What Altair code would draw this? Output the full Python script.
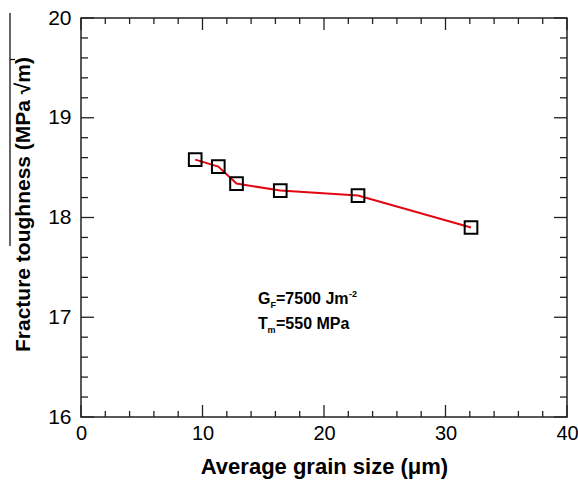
import altair as alt
import pandas as pd

# Measured fracture toughness against average grain size
grain_size = [9.4, 11.3, 12.8, 16.4, 22.8, 32.1]
toughness = [18.58, 18.51, 18.34, 18.27, 18.22, 17.90]

# Axis ticks
x_major = [0, 10, 20, 30, 40]
x_minor = [v for v in range(2, 40, 2) if v % 10 != 0]
y_major = [16, 17, 18, 19, 20]
y_minor = [round(16 + 0.2 * i, 1) for i in range(1, 20) if i % 5 != 0]

W, H = 486, 399
FONT = "Liberation Sans"

df = pd.DataFrame({"size": grain_size, "k": toughness})

xs = alt.Scale(domain=[0, 40], nice=False, zero=False)
ys = alt.Scale(domain=[16, 20], nice=False, zero=False)

line = alt.Chart(df).mark_line(color="#e30613", strokeWidth=2).encode(
    x=alt.X(
        "size:Q",
        scale=xs,
        axis=alt.Axis(
            values=x_major,
            format="d",
            ticks=False,
            tickSize=0,
            domain=False,
            grid=False,
            labelFlush=False,
            labelPadding=6,
            labelFont=FONT,
            labelFontSize=20,
            labelColor="black",
            title="Average grain size (\u03bcm)",
            titleFont=FONT,
            titleFontSize=22,
            titleFontWeight="bold",
            titleColor="black",
            titleBaseline="alphabetic",
            titleAlign="center",
            titleX=W / 2,
            titleY=56,
        ),
    ),
    y=alt.Y(
        "k:Q",
        scale=ys,
        axis=alt.Axis(
            values=y_major,
            format="d",
            ticks=False,
            tickSize=0,
            domain=False,
            grid=False,
            labelFlush=False,
            labelPadding=10,
            labelFont=FONT,
            labelFontSize=21,
            labelColor="black",
            title="Fracture toughness (MPa \u221am)",
            titleFont=FONT,
            titleFontSize=21,
            titleFontWeight="bold",
            titleColor="black",
            titleAngle=270,
            titleAlign="center",
            titleBaseline="alphabetic",
            titleX=-52,
            titleY=186,
        ),
    ),
)

points = alt.Chart(df).mark_point(
    shape="square", size=160, filled=False, color="black", strokeWidth=2, opacity=1
).encode(x=alt.X("size:Q", scale=xs), y=alt.Y("k:Q", scale=ys))


def xticks(values, length, side):
    d = pd.DataFrame({"v": values})
    if side == "bottom":
        enc = dict(y=alt.value(H), y2=alt.value(H - length))
    else:
        enc = dict(y=alt.value(0), y2=alt.value(length))
    return alt.Chart(d).mark_rule(color="#222", strokeWidth=1.3).encode(
        x=alt.X("v:Q", scale=xs), **enc
    )


def yticks(values, length, side):
    d = pd.DataFrame({"v": values})
    if side == "left":
        enc = dict(x=alt.value(0), x2=alt.value(length))
    else:
        enc = dict(x=alt.value(W), x2=alt.value(W - length))
    return alt.Chart(d).mark_rule(color="#222", strokeWidth=1.3).encode(
        y=alt.Y("v:Q", scale=ys), **enc
    )


tick_layers = []
for side in ("bottom", "top"):
    tick_layers += [xticks(x_major, 12, side), xticks(x_minor, 6, side)]
for side in ("left", "right"):
    tick_layers += [yticks(y_major, 13, side), yticks(y_minor, 7, side)]

# Overline of the square root in the y title
anno = pd.DataFrame({"a": [0]})
overline = alt.Chart(anno).mark_rule(color="black", strokeWidth=1.2).encode(
    x=alt.value(-71), y=alt.value(-5), y2=alt.value(228)
)
overline_hook = alt.Chart(anno).mark_rule(color="black", strokeWidth=1.2).encode(
    x=alt.value(-71), x2=alt.value(-66), y=alt.value(41.5)
)


def label(text, x, y, size, dy=0):
    return alt.Chart(anno).mark_text(
        text=text,
        font=FONT,
        fontSize=size,
        fontWeight="bold",
        color="black",
        align="left",
        baseline="alphabetic",
        dy=dy,
    ).encode(x=alt.value(x), y=alt.value(y))


L1, L2 = 286, 311
annotation = [
    label("G", 177, L1, 16),
    label("F", 189.5, L1, 9, dy=4),
    label("=7500 Jm", 195, L1, 16),
    label("-2", 268, L1, 9, dy=-7),
    label("T", 177, L2, 16),
    label("m", 186.5, L2, 9, dy=4),
    label("=550 MPa", 195, L2, 16),
]

chart = (
    alt.layer(*tick_layers, line, points, overline, overline_hook, *annotation)
    .properties(
        width=W,
        height=H,
        autosize=alt.AutoSizeParams(type="none"),
        padding={"left": 81, "top": 18, "right": 11, "bottom": 65},
        background="white",
    )
    .configure_view(stroke="#222", strokeWidth=1.5)
)

chart.save("out.html", embed_options={"renderer": "svg", "actions": False})
